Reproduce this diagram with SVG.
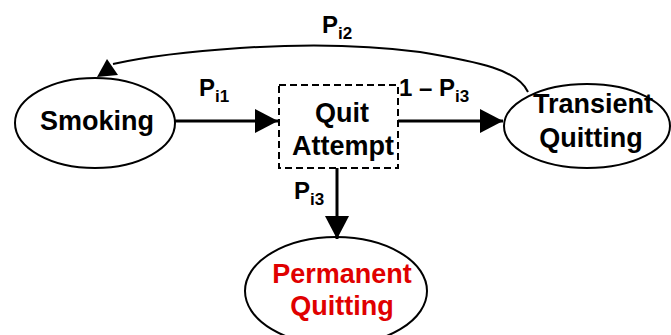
<svg xmlns="http://www.w3.org/2000/svg" width="671" height="335" viewBox="0 0 671 335">
<style>
.node{fill:#fff;stroke:#000;stroke-width:2}
.box{fill:#fff;stroke:#000;stroke-width:2;stroke-dasharray:7,4}
.t{font-family:"Liberation Sans",Arial,sans-serif;font-weight:bold;font-size:27px;text-anchor:middle;fill:#000}
.red{fill:#e00000}
.lbl{font-family:"Liberation Sans",Arial,sans-serif;font-weight:bold;font-size:24px;fill:#000}
.sub{font-size:17px}
.edge{fill:none;stroke:#000;stroke-width:3}
.thin{fill:none;stroke:#000;stroke-width:2}
</style>
<defs>
<marker id="ah" markerWidth="24" markerHeight="24" refX="23" refY="12" orient="auto" markerUnits="userSpaceOnUse">
<path d="M0,0 L23,12 L0,24 Z" fill="#000"/>
</marker>
</defs>
<rect width="671" height="335" fill="#fff"/>
<g id="smoking">
<ellipse class="node" cx="95" cy="123" rx="80" ry="45"/>
<text class="t" x="97" y="130">Smoking</text>
</g>
<g id="quit-attempt">
<rect class="box" x="279" y="85" width="119" height="83"/>
<text class="t" x="342" y="122">Quit</text>
<text class="t" x="343" y="155">Attempt</text>
</g>
<g id="transient">
<ellipse class="node" cx="587" cy="126" rx="83" ry="42"/>
<text class="t" x="593" y="113">Transient</text>
<text class="t" x="591" y="147">Quitting</text>
</g>
<g id="permanent">
<ellipse class="node" cx="336" cy="291" rx="91" ry="54"/>
<text class="t red" x="342" y="283">Permanent</text>
<text class="t red" x="342" y="315">Quitting</text>
</g>
<g id="connectors">
<line class="edge" x1="175" y1="121" x2="278" y2="121" marker-end="url(#ah)"/>
<line class="edge" x1="398" y1="121" x2="503" y2="121" marker-end="url(#ah)"/>
<line class="edge" x1="337" y1="168" x2="337" y2="239" marker-end="url(#ah)"/>
<path class="thin" d="M528,92 C518,70 480,62 420,52 C360,44 300,44 240,48 C180,52 140,58 113,64"/>
<polygon points="107,59 97,77 118,75" fill="#000"/>
</g>
<g id="labels">
<text class="lbl" x="322" y="33">P<tspan class="sub" dy="6">i2</tspan></text>
<text class="lbl" x="199" y="96">P<tspan class="sub" dy="6">i1</tspan></text>
<text class="lbl" x="399" y="96">1 – P<tspan class="sub" dy="6">i3</tspan></text>
<text class="lbl" x="294" y="199">P<tspan class="sub" dy="6">i3</tspan></text>
</g>
</svg>
